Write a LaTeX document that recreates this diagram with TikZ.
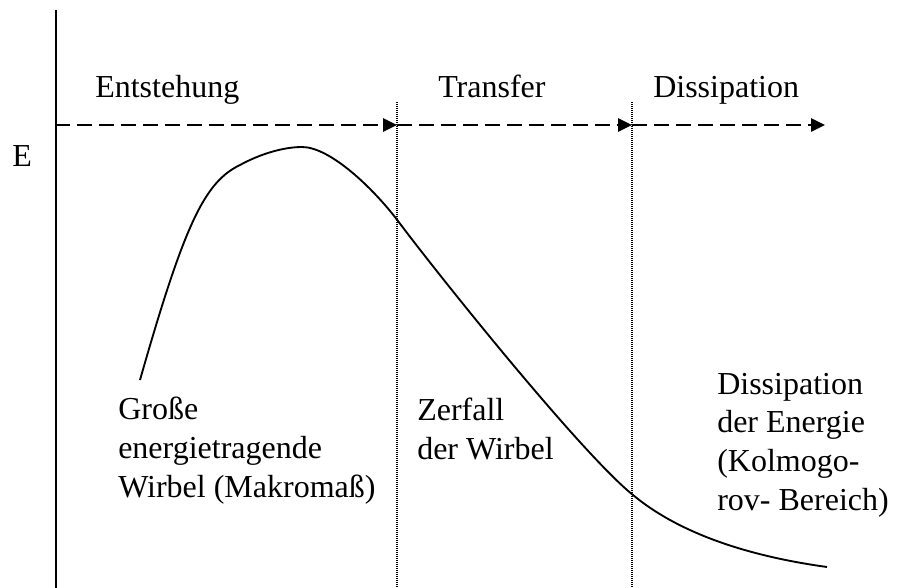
\documentclass[tikz,border=0pt]{standalone}
\usepackage{fontspec}
\setmainfont{Liberation Serif}
\usetikzlibrary{arrows.meta}
\begin{document}
\begin{tikzpicture}[x=0.75pt,y=-0.75pt,
  lbl/.style={anchor=base west,inner sep=0pt,align=left,font=\fontsize{24}{29}\selectfont},
  axisline/.style={line width=1.5pt},
  flow/.style={line width=1.5pt,dash pattern=on 11.25pt off 5.25pt,-{Triangle[length=10.5pt,width=10pt]}},
  divider/.style={line width=1.2pt,dash pattern=on 0.9pt off 0.6pt},
  curveline/.style={line width=1.4pt,line join=round}]
\useasboundingbox (0,0) rectangle (900,588);
% axis
\coordinate (axtop) at (56,10);
\coordinate (axbot) at (56,588);
\draw[axisline] (axtop) -- (axbot);
% dividers
\coordinate (d1top) at (397,102);
\coordinate (d1bot) at (397,588);
\coordinate (d2top) at (632,102);
\coordinate (d2bot) at (632,588);
\draw[divider] (d1top) -- (d1bot);
\draw[divider] (d2top) -- (d2bot);
% flow arrows
\coordinate (f0) at (55,125);
\coordinate (f1) at (397,125);
\coordinate (f2) at (632,125);
\coordinate (f3) at (825,125);
\draw[flow] (f0) -- (f1);
\draw[flow] (f1) -- (f2);
\draw[flow] (f2) -- (f3);
% labels (base = last line's baseline)
\node[lbl] (ent) at (95,98) {Entstehung};
\node[lbl] (tra) at (438,98) {Transfer};
\node[lbl] (dis) at (653,98) {Dissipation};
\node[lbl] (e) at (12,167) {E};
\node[lbl] (gross) at (118,497) {Große\\energietragende\\Wirbel (Makromaß)};
\node[lbl] (zer) at (417,459) {Zerfall\\der Wirbel};
\node[lbl] (dise) at (717,510) {Dissipation\\der Energie\\(Kolmogo-\\rov- Bereich)};
% curve
\coordinate (c0) at (140,380);
\coordinate (c1) at (240,165);
\coordinate (c2) at (302,147);
\coordinate (c3) at (398,221);
\coordinate (c4) at (633,495);
\coordinate (c5) at (827,567);
\draw[curveline] (c0) .. controls (185,222) and (205,182) .. (c1)
  .. controls (262,153) and (285,147) .. (c2)
  .. controls (330,147) and (373,188) .. (c3)
  .. controls (443,281) and (583,455) .. (c4)
  .. controls (675,530) and (740,555) .. (c5);
\end{tikzpicture}
\end{document}
